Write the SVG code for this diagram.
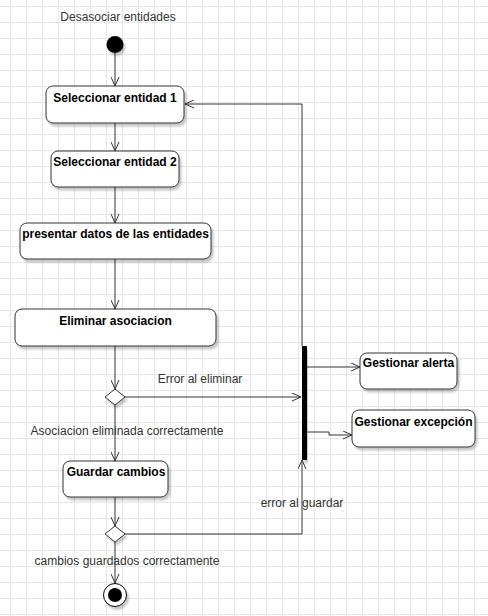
<svg xmlns="http://www.w3.org/2000/svg" width="488" height="616" viewBox="0 0 488 616">
<defs>
<pattern id="grid" x="10" y="6" width="16" height="16" patternUnits="userSpaceOnUse">
<path d="M0 0.5H16M0.5 0V16" stroke="#e6e6e6" stroke-width="1" fill="none"/>
</pattern>
<filter id="sh" x="-10%" y="-10%" width="130%" height="140%">
<feDropShadow dx="2" dy="3" stdDeviation="1.2" flood-color="#000" flood-opacity="0.22"/>
</filter>
<marker id="open" viewBox="0 0 10 9" refX="9.5" refY="4.5" markerWidth="10" markerHeight="9" markerUnits="userSpaceOnUse" orient="auto">
<path d="M0.5 0.5L9.5 4.5L0.5 8.5" fill="none" stroke="#333" stroke-width="1"/>
</marker>
</defs>
<style>
.box{fill:#fff;stroke:#333;stroke-width:1;filter:url(#sh)}
.bt{font-family:"Liberation Sans",Arial,sans-serif;font-size:12px;font-weight:bold;fill:#000;text-anchor:middle}
.lb{font-family:"Liberation Sans",Arial,sans-serif;font-size:12px;fill:#333;text-anchor:middle}
.e{fill:none;stroke:#333;stroke-width:1}
.ea{fill:none;stroke:#333;stroke-width:1;marker-end:url(#open)}
</style>
<rect width="488" height="616" fill="#fff"/>
<rect width="488" height="616" fill="url(#grid)"/>

<g id="connectors">
<path class="ea" d="M115 53V86"/>
<path class="ea" d="M115 123V151"/>
<path class="ea" d="M115 187V223"/>
<path class="ea" d="M115 259V309"/>
<path class="ea" d="M115 346V389"/>
<path class="ea" d="M125 397H301"/>
<path class="ea" d="M115 405V461"/>
<path class="ea" d="M115 497V526"/>
<path class="ea" d="M115 542V583"/>
<path class="ea" d="M125 534H302V460"/>
<path class="ea" d="M302 346V104H185"/>
<path class="ea" d="M307 367H360"/>
<path class="ea" d="M307 432H329V435H352"/>
<text class="lb" x="200" y="383">Error al eliminar</text>
<text class="lb" x="127" y="435">Asociacion eliminada correctamente</text>
<text class="lb" x="302" y="507">error al guardar</text>
<text class="lb" x="127" y="565">cambios guardados correctamente</text>
</g>

<g id="title"><text class="lb" x="118" y="21">Desasociar entidades</text></g>

<g id="start"><circle cx="115" cy="44.5" r="8.5" fill="#000" filter="url(#sh)"/></g>

<g id="sel1"><rect class="box" x="46" y="86" width="138" height="37" rx="7"/><text class="bt" x="115" y="102">Seleccionar entidad 1</text></g>
<g id="sel2"><rect class="box" x="51" y="151" width="128" height="36" rx="7"/><text class="bt" x="115" y="166">Seleccionar entidad 2</text></g>
<g id="presentar"><rect class="box" x="20" y="223" width="191" height="36" rx="7"/><text class="bt" x="115.5" y="238">presentar datos de las entidades</text></g>
<g id="eliminar"><rect class="box" x="15" y="309" width="201" height="37" rx="7"/><text class="bt" x="115.5" y="325">Eliminar asociacion</text></g>
<g id="dec1"><path class="box" d="M115 389L125 397L115 405L105 397Z"/></g>
<g id="guardar"><rect class="box" x="63" y="461" width="105" height="36" rx="7"/><text class="bt" x="116" y="476">Guardar cambios</text></g>
<g id="dec2"><path class="box" d="M115 526L125 534L115 542L105 534Z"/></g>
<g id="end"><circle cx="115" cy="595" r="11.5" fill="#fff" stroke="#000" stroke-width="1" filter="url(#sh)"/><circle cx="115" cy="595" r="7" fill="#000"/></g>
<g id="bar"><rect x="302" y="346" width="5" height="114" rx="1" fill="#000" filter="url(#sh)"/></g>
<g id="alerta"><rect class="box" x="360" y="353" width="97" height="36" rx="7"/><text class="bt" x="408.5" y="367" font-weight="normal" style="font-weight:bold">Gestionar alerta</text></g>
<g id="excepcion"><rect class="box" x="352" y="410" width="123" height="37" rx="7"/><text class="bt" x="413.5" y="426">Gestionar excepción</text></g>
</svg>
